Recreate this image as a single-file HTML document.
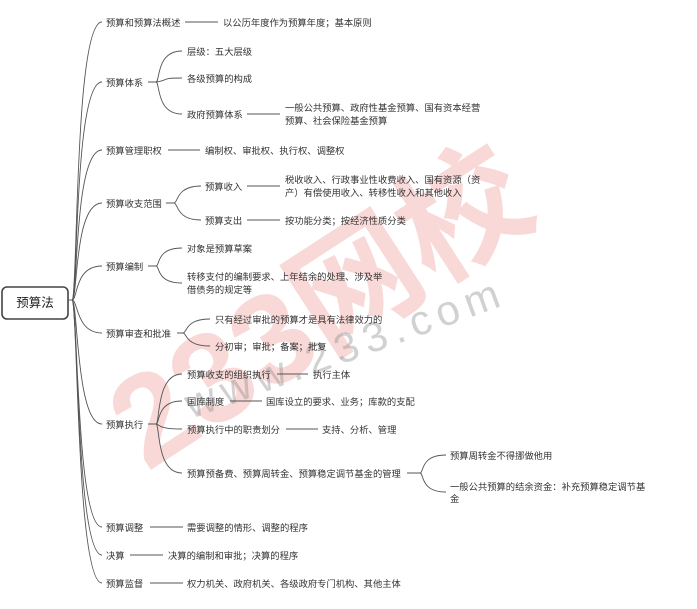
<!DOCTYPE html>
<html><head><meta charset="utf-8"><style>
html,body{margin:0;padding:0;background:#fff}
svg{display:block}
text{font-family:"Liberation Sans","Noto Sans CJK SC",sans-serif;font-size:9.3px;fill:#333}
.c{fill:none;stroke:#555;stroke-width:0.9}
</style></head><body>
<svg width="697" height="609" viewBox="0 0 697 609" xmlns="http://www.w3.org/2000/svg">
<!-- watermark -->
<text x="325" y="350" text-anchor="middle" transform="rotate(-33 325 315)" style="font-size:128px;font-weight:bold;fill:rgba(232,120,110,0.28)">233网校</text>
<text x="345" y="362" text-anchor="middle" transform="rotate(-20 345 347)" style="font-size:42px;letter-spacing:7px;fill:rgba(140,140,140,0.4)">www.233.com</text>
<!-- root -->
<rect x="2" y="287" width="66" height="32" rx="5" fill="#fff" stroke="#444" stroke-width="1.6"/>
<text x="35" y="307" text-anchor="middle" style="font-size:12.5px;fill:#222">预算法</text>
<g class="c">
<path d="M68 300 H72 C78 300 74 22 102 22"/>
<path d="M68 300 H72 C78 300 74 82 102 82"/>
<path d="M68 300 H72 C78 300 74 150 102 150"/>
<path d="M68 300 H72 C78 300 74 203 102 203"/>
<path d="M68 300 H72 C78 300 74 266 102 266"/>
<path d="M68 300 H72 C78 300 76 333 102 333"/>
<path d="M68 300 H72 C78 300 76 424 102 424"/>
<path d="M68 300 H72 C78 300 76 527 102 527"/>
<path d="M68 300 H72 C78 300 76 555 102 555"/>
<path d="M68 300 H72 C78 300 76 583 102 583"/>
<path d="M185 22 H218"/>
<path d="M148 82 H156 C160 82 156 51 182 51"/>
<path d="M148 82 H156 C170 80 160 78 182 78"/>
<path d="M148 82 H156 C160 82 156 114 182 114"/>
<path d="M247 114 H280"/>
<path d="M168 150 H200"/>
<path d="M166 203 H174 C178 203 176 186 201 186"/>
<path d="M166 203 H174 C178 203 176 220 201 220"/>
<path d="M247 186 H280"/>
<path d="M247 220 H280"/>
<path d="M148 266 H156 C160 266 156 248 182 248"/>
<path d="M148 266 H156 C160 266 156 283 182 283"/>
<path d="M177 333 H183 C187 333 185 319 210 319"/>
<path d="M177 333 H183 C187 333 185 346 210 346"/>
<path d="M148 424 H156 C160 424 156 374 182 374"/>
<path d="M148 424 H156 C160 424 156 401 182 401"/>
<path d="M148 424 H156 C160 424 156 429 182 429"/>
<path d="M148 424 H156 C160 424 156 473 182 473"/>
<path d="M277 374 H308"/>
<path d="M230 401 H262"/>
<path d="M286 429 H318"/>
<path d="M407 473 H420 C424 473 420 455 446 455"/>
<path d="M407 473 H420 C424 473 420 492 446 492"/>
<path d="M150 527 H183"/>
<path d="M130 555 H163"/>
<path d="M150 583 H183"/>
</g>
<g>
<text x="106" y="26">预算和预算法概述</text>
<text x="223" y="26">以公历年度作为预算年度；基本原则</text>
<text x="106" y="86">预算体系</text>
<text x="187" y="55">层级：五大层级</text>
<text x="187" y="82">各级预算的构成</text>
<text x="187" y="118">政府预算体系</text>
<text x="285" y="111">一般公共预算、政府性基金预算、国有资本经营</text>
<text x="285" y="124">预算、社会保险基金预算</text>
<text x="106" y="154">预算管理职权</text>
<text x="205" y="154">编制权、审批权、执行权、调整权</text>
<text x="106" y="207">预算收支范围</text>
<text x="205" y="190">预算收入</text>
<text x="205" y="224">预算支出</text>
<text x="285" y="183">税收收入、行政事业性收费收入、国有资源（资</text>
<text x="285" y="196">产）有偿使用收入、转移性收入和其他收入</text>
<text x="285" y="224">按功能分类；按经济性质分类</text>
<text x="106" y="270">预算编制</text>
<text x="187" y="252">对象是预算草案</text>
<text x="187" y="280">转移支付的编制要求、上年结余的处理、涉及举</text>
<text x="187" y="293">借债务的规定等</text>
<text x="106" y="337">预算审查和批准</text>
<text x="215" y="323">只有经过审批的预算才是具有法律效力的</text>
<text x="215" y="350">分初审；审批；备案；批复</text>
<text x="106" y="428">预算执行</text>
<text x="187" y="378">预算收支的组织执行</text>
<text x="313" y="378">执行主体</text>
<text x="187" y="405">国库制度</text>
<text x="266" y="405">国库设立的要求、业务；库款的支配</text>
<text x="187" y="433">预算执行中的职责划分</text>
<text x="322" y="433">支持、分析、管理</text>
<text x="187" y="477">预算预备费、预算周转金、预算稳定调节基金的管理</text>
<text x="450" y="459">预算周转金不得挪做他用</text>
<text x="450" y="490">一般公共预算的结余资金：补充预算稳定调节基</text>
<text x="450" y="502">金</text>
<text x="106" y="531">预算调整</text>
<text x="187" y="531">需要调整的情形、调整的程序</text>
<text x="106" y="559">决算</text>
<text x="168" y="559">决算的编制和审批；决算的程序</text>
<text x="106" y="587">预算监督</text>
<text x="187" y="587">权力机关、政府机关、各级政府专门机构、其他主体</text>
</g>
</svg>
</body></html>
